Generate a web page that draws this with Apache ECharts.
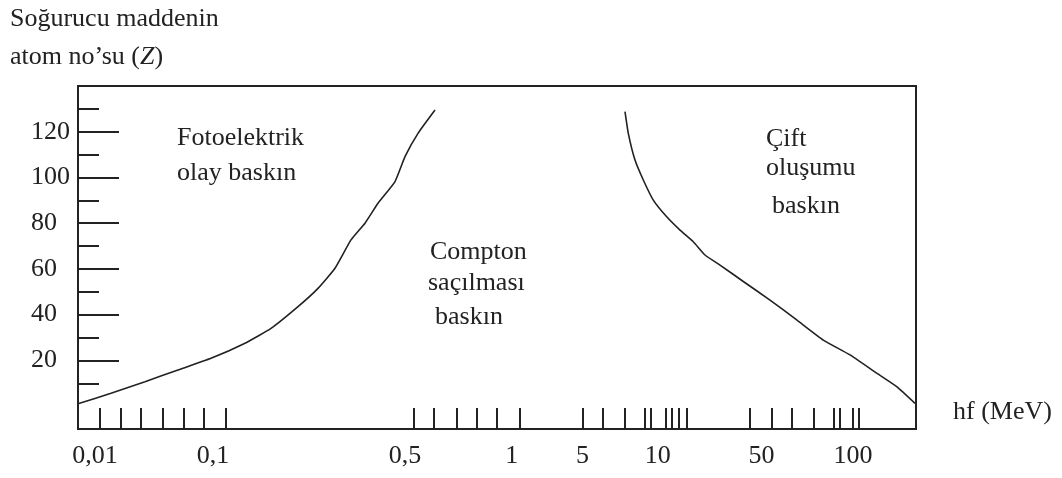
<!DOCTYPE html>
<html>
<head>
<meta charset="utf-8">
<script src="https://cdn.jsdelivr.net/npm/echarts@6/dist/echarts.min.js"></script>
<style>
  html, body { margin: 0; padding: 0; background: #fff; }
  #chart { width: 1062px; height: 478px; }
</style>
</head>
<body>
<div id="chart"></div>
<script>
// ---- Data (x in "ruler" units along the drawn hf axis, y = atomic number Z) ----
const yLabelTicks = [20, 40, 60, 80, 100, 120];
const yMinorTicks = [10, 30, 50, 70, 90, 110, 130];

const xTickAt = [22, 42.7, 62.7, 84.7, 105.3, 125.3, 147.7,
                 336, 356, 378.7, 398.7, 418.7, 441.7,
                 504.4, 525.2, 546.7, 567.2, 572.5, 588, 594, 601.2, 608.4,
                 672.2, 693.3, 713.4, 735.6, 756, 761.8, 775, 781.1];
const xLabelAt = [17, 135, 327, 433.7, 504.4, 579.7, 683.6, 775];
const xLabels  = ['0,01', '0,1', '0,5', '1', '5', '10', '50', '100'];

// photoelectric / Compton boundary
const photoComptonX = [0, 33, 67, 100, 133, 167, 193, 220, 240, 257, 273, 287, 300, 317, 327, 340, 357];
const photoComptonZ = [1, 5.6, 10.7, 15.8, 20.9, 27.5, 34, 43.5, 51.5, 60.3, 72.7, 80, 88.7, 98.2, 109.1, 119.3, 129.5];

// Compton / pair production boundary
const comptonPairX = [547, 550.3, 557, 565.3, 575.3, 588.7, 602, 615.3, 627, 642, 665.3, 692, 718.7, 745.3, 772, 798.7, 818.7, 837];
const comptonPairZ = [128.8, 119.3, 107.6, 98.9, 90.1, 82.8, 77, 71.9, 66.1, 61.7, 54.5, 46.4, 37.7, 28.9, 22.4, 14.4, 8.5, 1.2];

const FONT = '"Liberation Serif", "Times New Roman", serif';
const INK = '#222';

const chart = echarts.init(document.getElementById('chart'), null, { renderer: 'canvas' });

const zip = (xs, ys) => xs.map((x, i) => [x, ys[i]]);

function annot(text, left, top) {
  return {
    type: 'text', left: left, top: top, silent: true,
    style: { text: text, fill: INK, font: '26px ' + FONT }
  };
}

const option = {
  animation: false,
  backgroundColor: '#fff',
  title: {
    left: 10, top: 0, padding: 0,
    text: 'Soğurucu maddenin\natom no’su ({z|Z})',
    textStyle: {
      fontFamily: FONT, fontSize: 26, fontWeight: 'normal', color: INK, lineHeight: 38,
      rich: { z: { fontFamily: FONT, fontSize: 26, fontStyle: 'italic', color: INK, lineHeight: 38 } }
    }
  },
  grid: {
    left: 78, right: 146, top: 86, bottom: 49,
    show: true, borderColor: INK, borderWidth: 2,
    outerBoundsMode: 'none', containLabel: false
  },
  xAxis: {
    type: 'value', min: 0, max: 838,
    name: 'hf (MeV)', nameLocation: 'end', nameGap: 37,
    nameTextStyle: { fontFamily: FONT, fontSize: 26, color: INK, verticalAlign: 'bottom', padding: [0, 0, 4, 0] },
    axisLine: { show: true, onZero: false, lineStyle: { color: INK, width: 2 } },
    splitLine: { show: false },
    axisTick: { show: true, inside: true, length: 21, customValues: xTickAt, lineStyle: { color: INK, width: 2 } },
    axisLabel: {
      show: true, customValues: xLabelAt, margin: 14,
      fontFamily: FONT, fontSize: 26, color: INK,
      formatter: function (v) {
        const i = xLabelAt.findIndex(function (p) { return Math.abs(p - v) < 1e-6; });
        return i >= 0 ? xLabels[i] : '';
      }
    }
  },
  yAxis: [{
    type: 'value', min: -10, max: 140,
    axisLine: { show: true, onZero: false, lineStyle: { color: INK, width: 2 } },
    splitLine: { show: false },
    axisTick: { show: true, inside: true, length: 41, customValues: yLabelTicks, lineStyle: { color: INK, width: 2 } },
    axisLabel: {
      show: true, customValues: yLabelTicks, align: 'left', margin: 47,
      fontFamily: FONT, fontSize: 26, color: INK, padding: [8, 0, 0, 0]
    }
  }, {
    type: 'value', min: -10, max: 140, position: 'left',
    axisLine: { show: false, onZero: false },
    splitLine: { show: false },
    axisTick: { show: true, inside: true, length: 21, customValues: yMinorTicks, lineStyle: { color: INK, width: 2 } },
    axisLabel: { show: false }
  }],
  series: [{
    type: 'line', name: 'Fotoelektrik / Compton', yAxisIndex: 0,
    data: zip(photoComptonX, photoComptonZ),
    showSymbol: false, smooth: 0.15,
    lineStyle: { color: INK, width: 1.6 }
  }, {
    type: 'line', name: 'Compton / Çift oluşumu', yAxisIndex: 0,
    data: zip(comptonPairX, comptonPairZ),
    showSymbol: false, smooth: 0.15,
    lineStyle: { color: INK, width: 1.6 }
  }],
  graphic: [
    annot('Fotoelektrik', 177, 125),
    annot('olay baskın', 177, 160),
    annot('Compton', 430, 239),
    annot('saçılması', 428, 270),
    annot('baskın', 435, 304),
    annot('Çift', 766, 126),
    annot('oluşumu', 766, 155),
    annot('baskın', 772, 193)
  ]
};

chart.setOption(option);
</script>
</body>
</html>
